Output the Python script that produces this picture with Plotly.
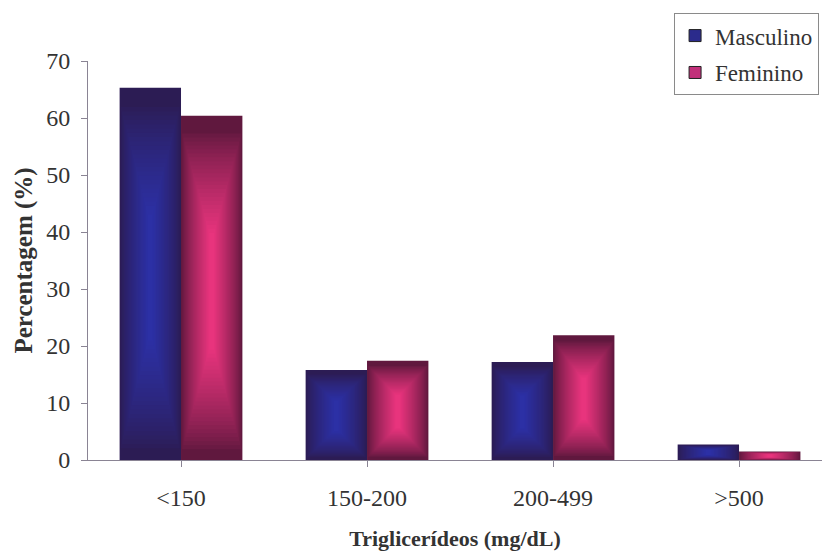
import plotly.graph_objects as go

# Triglyceride ranges and the share of each sex in each range (%)
categories = ["<150", "150-200", "200-499", ">500"]
masculino = [65.3, 15.8, 17.2, 2.7]
feminino = [60.4, 17.4, 21.9, 1.5]
y_ticks = [0, 10, 20, 30, 40, 50, 60, 70]

FONT = "Liberation Serif"
BAR_W = 0.33

series = [
    ("Masculino", masculino, -BAR_W, (44, 28, 84), (44, 48, 165), "#2b2b8c"),
    ("Feminino", feminino, 0.0, (96, 24, 62), (232, 52, 125), "#c2307a"),
]

N_LAYERS = 26


def mix(a, b, t):
    return "rgb(%d,%d,%d)" % tuple(round(a[i] + (b[i] - a[i]) * t) for i in range(3))


fig = go.Figure()
xs = list(range(len(categories)))

for name, vals, offset, edge, center, legend_col in series:
    # Base bar in the edge colour
    fig.add_trace(go.Bar(
        x=xs, y=vals, name=name, width=BAR_W, offset=offset,
        marker=dict(color=mix(edge, edge, 0), line=dict(width=0)),
        legendgroup=name, showlegend=False, hoverinfo="skip",
    ))
    # Nested, progressively lighter rectangles give the shaded look
    for k in range(1, N_LAYERS + 1):
        t = k / N_LAYERS
        shrink_x = 0.46 * t
        w = BAR_W * (1 - 2 * shrink_x)
        bases = [v * (0.02 + 0.30 * t) for v in vals]
        tops = [v * (1 - 0.04 - 0.30 * t) for v in vals]
        fig.add_trace(go.Bar(
            x=xs, y=[tp - b for tp, b in zip(tops, bases)], base=bases,
            width=w, offset=offset + BAR_W * shrink_x,
            marker=dict(color=mix(edge, center, t ** 0.8), line=dict(width=0)),
            showlegend=False, hoverinfo="skip",
        ))
    # Legend swatch
    fig.add_trace(go.Bar(
        x=[None], y=[None], name=name, legendgroup=name,
        marker=dict(color=legend_col, line=dict(color="#222", width=1)),
    ))

fig.update_layout(
    width=825, height=555,
    margin=dict(l=88, r=3, t=61, b=95),
    paper_bgcolor="white", plot_bgcolor="white",
    barmode="overlay",
    font=dict(family=FONT, size=24, color="#333"),
    showlegend=True,
    legend=dict(
        x=0.996, xanchor="right", y=1.12, yanchor="top",
        bordercolor="#8a8a8a", borderwidth=1, bgcolor="white",
        font=dict(family=FONT, size=23, color="#333"),
        traceorder="grouped", tracegroupgap=4,
    ),
    xaxis=dict(
        range=[-0.5, 3.446],
        tickmode="array", tickvals=xs, ticktext=categories,
        tickson="boundaries", ticks="outside", ticklen=6,
        tickcolor="#8a8494", showline=True, linecolor="#8a8494", linewidth=1,
        showgrid=False, zeroline=False,
        ticklabelstandoff=10,
        title=dict(text="<b>Triglicerídeos (mg/dL)</b>", standoff=20,
                   font=dict(family=FONT, size=22, color="#333")),
    ),
    yaxis=dict(
        range=[0, 70], tickmode="array", tickvals=y_ticks,
        ticks="outside", ticklen=6, tickcolor="#8a8494",
        showline=True, linecolor="#8a8494", linewidth=1,
        showgrid=False, zeroline=False,
        ticklabelstandoff=6,
        title=dict(text="<b>Percentagem (%)</b>", standoff=6,
                   font=dict(family=FONT, size=25, color="#333")),
    ),
)

fig.write_html("out.html")
